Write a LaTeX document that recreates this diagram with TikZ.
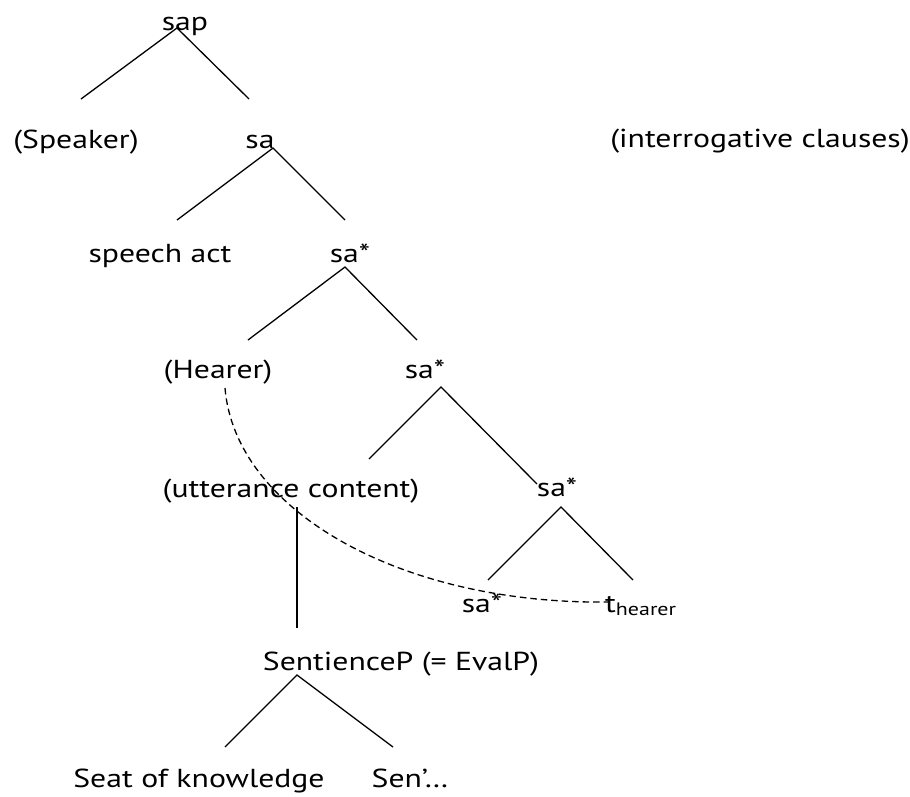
\documentclass[tikz,border=0pt]{standalone}
\usepackage{fontspec}
\setmainfont{PT Sans}[FakeStretch=1.22]
\begin{document}
\begin{tikzpicture}[x=1pt,y=-1pt,
  lbl/.style={anchor=base,inner sep=0pt,font=\fontsize{26}{30}\selectfont},
  branch/.style={line width=1.3pt,line cap=butt},
  trace/.style={line width=1.3pt,dash pattern=on 6.5pt off 4pt}]
\useasboundingbox (0,0) rectangle (910,796);
% labels
\node[lbl] (sap) at (185,30) {sap};
\node[lbl] (spk) at (76,148) {(Speaker)};
\node[lbl] (sa) at (260,148) {sa};
\node[lbl] (intq) at (760,147) {(interrogative clauses)};
\node[lbl] (sact) at (160,262) {speech act};
\node[lbl] (sa1) at (350,262) {sa*};
\node[lbl] (hr) at (218,378) {(Hearer)};
\node[lbl] (sa2) at (425,378) {sa*};
\node[lbl] (utc) at (291,497) {(utterance content)};
\node[lbl] (sa3) at (557,496) {sa*};
\node[lbl] (sa4) at (482,612) {sa*};
\node[lbl,anchor=base west] (th) at (605,612) {t\raisebox{-0.3ex}{\fontsize{18}{20}\selectfont hearer}};
\node[lbl] (sent) at (401,670) {SentienceP (= EvalP)};
\node[lbl] (seat) at (199,787) {Seat of knowledge};
\node[lbl] (senp) at (410,787) {Sen’…};
% branch points
\coordinate (sapB) at (177,28);
\coordinate (spkT) at (81,99);
\coordinate (saT) at (249,99);
\coordinate (saB) at (273,148);
\coordinate (sactT) at (177,220);
\coordinate (sa1T) at (345,220);
\coordinate (sa1B) at (345,267);
\coordinate (hrT) at (248,340);
\coordinate (sa2T) at (417,340);
\coordinate (sa2B) at (441,387);
\coordinate (utcT) at (369,459);
\coordinate (sa3T) at (537,484);
\coordinate (sa3B) at (561,507);
\coordinate (sa4T) at (488,580);
\coordinate (thT) at (633,580);
\coordinate (utcB) at (297,507);
\coordinate (sentT) at (297,628);
\coordinate (sentB) at (297,675);
\coordinate (seatT) at (225,747);
\coordinate (senpT) at (393,747);
\coordinate (hrD) at (225,388);
\coordinate (thD) at (610,602);
% branches
\draw[branch] (spkT) -- (sapB) -- (saT);
\draw[branch] (sactT) -- (saB) -- (sa1T);
\draw[branch] (hrT) -- (sa1B) -- (sa2T);
\draw[branch] (utcT) -- (sa2B) -- (sa3T);
\draw[branch] (sa4T) -- (sa3B) -- (thT);
\draw[branch] (utcB) -- (sentT);
\draw[branch] (seatT) -- (sentB) -- (senpT);
% movement trace
\draw[trace] (hrD) .. controls (235,510) and (400,605) .. (thD);
\end{tikzpicture}
\end{document}
